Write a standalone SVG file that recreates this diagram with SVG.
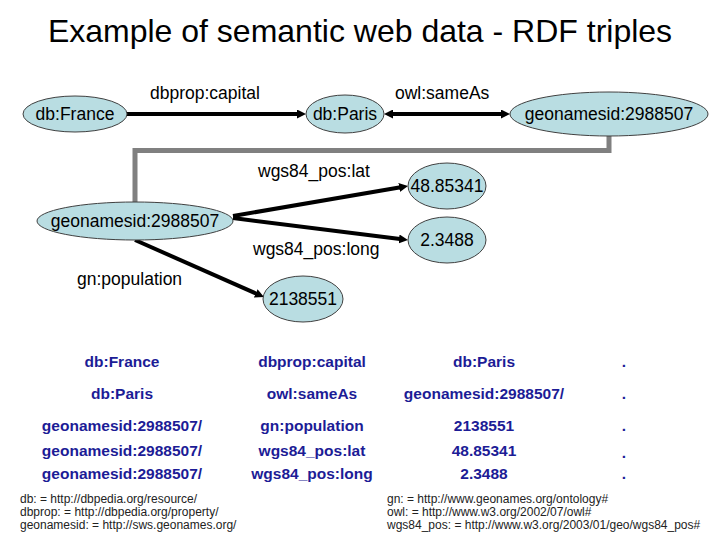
<svg xmlns="http://www.w3.org/2000/svg" width="720" height="540" viewBox="0 0 720 540">
<style>
.node ellipse{fill:#b9dde2;stroke:#404040;stroke-width:1}
.node text{font-family:"Liberation Sans",Arial,sans-serif;font-size:17.5px;fill:#000;text-anchor:middle}
.lbl{font-family:"Liberation Sans",Arial,sans-serif;font-size:17.5px;fill:#000}
.edge{stroke:#000;stroke-width:4;fill:none}
.gray{stroke:#808080;stroke-width:5;fill:none}
.tbl{font-family:"Liberation Sans",Arial,sans-serif;font-size:15.5px;font-weight:bold;fill:#1c1c96;text-anchor:middle}
.foot{font-family:"Liberation Sans",Arial,sans-serif;font-size:12px;fill:#222}
.title{font-family:"Liberation Sans",Arial,sans-serif;font-size:32px;fill:#000;text-anchor:middle}
</style>
<defs>
<marker id="arr" markerUnits="userSpaceOnUse" markerWidth="9" markerHeight="9" refX="3" refY="4.5" orient="auto-start-reverse" viewBox="0 0 9 9">
<path d="M0,0 L9,4.5 L0,9 z" fill="#000"/>
</marker>
</defs>
<rect width="720" height="540" fill="#fff"/>
<text class="title" x="360" y="42">Example of semantic web data - RDF triples</text>

<g id="connectors">
<line class="edge" x1="127" y1="114" x2="300" y2="114" marker-end="url(#arr)"/>
<line class="edge" x1="390" y1="114" x2="504" y2="114" marker-start="url(#arr)" marker-end="url(#arr)"/>
<polyline class="gray" points="609,136 609,150.5 135,150.5 135,202"/>
<line class="edge" x1="233" y1="216" x2="402.1" y2="187" marker-end="url(#arr)"/>
<line class="edge" x1="233" y1="218" x2="402" y2="239.3" marker-end="url(#arr)"/>
<line class="edge" x1="135" y1="240" x2="258.5" y2="294.6" marker-end="url(#arr)"/>
</g>

<g id="edge-labels">
<text class="lbl" x="150" y="99">dbprop:capital</text>
<text class="lbl" x="395" y="99">owl:sameAs</text>
<text class="lbl" x="258" y="177">wgs84_pos:lat</text>
<text class="lbl" x="253" y="255">wgs84_pos:long</text>
<text class="lbl" x="77" y="285">gn:population</text>
</g>

<g id="france" class="node"><ellipse cx="75" cy="114" rx="52" ry="18"/><text x="75" y="120">db:France</text></g>
<g id="paris" class="node"><ellipse cx="345" cy="114" rx="39" ry="19"/><text x="345" y="120">db:Paris</text></g>
<g id="geo1" class="node"><ellipse cx="609" cy="114" rx="99" ry="22"/><text x="609" y="120">geonamesid:2988507</text></g>
<g id="geo2" class="node"><ellipse cx="135" cy="221" rx="98" ry="19"/><text x="135" y="227">geonamesid:2988507</text></g>
<g id="lat" class="node"><ellipse cx="447" cy="186" rx="39" ry="23"/><text x="447" y="192">48.85341</text></g>
<g id="long" class="node"><ellipse cx="447" cy="240" rx="39" ry="23"/><text x="447" y="246">2.3488</text></g>
<g id="pop" class="node"><ellipse cx="303" cy="299" rx="40" ry="23"/><text x="303" y="305">2138551</text></g>

<g id="table">
<text class="tbl" x="122" y="367">db:France</text>
<text class="tbl" x="312" y="367">dbprop:capital</text>
<text class="tbl" x="484" y="367">db:Paris</text>
<text class="tbl" x="624" y="367">.</text>
<text class="tbl" x="122" y="399">db:Paris</text>
<text class="tbl" x="312" y="399">owl:sameAs</text>
<text class="tbl" x="484" y="399">geonamesid:2988507/</text>
<text class="tbl" x="624" y="399">.</text>
<text class="tbl" x="122" y="431">geonamesid:2988507/</text>
<text class="tbl" x="312" y="431">gn:population</text>
<text class="tbl" x="484" y="431">2138551</text>
<text class="tbl" x="624" y="431">.</text>
<text class="tbl" x="122" y="456">geonamesid:2988507/</text>
<text class="tbl" x="312" y="456">wgs84_pos:lat</text>
<text class="tbl" x="484" y="456">48.85341</text>
<text class="tbl" x="624" y="458">.</text>
<text class="tbl" x="122" y="479">geonamesid:2988507/</text>
<text class="tbl" x="312" y="479">wgs84_pos:long</text>
<text class="tbl" x="484" y="479">2.3488</text>
<text class="tbl" x="624" y="479">.</text>
</g>

<g id="footer">
<text class="foot" x="20" y="503">db: = http://dbpedia.org/resource/</text>
<text class="foot" x="20" y="516">dbprop: = http://dbpedia.org/property/</text>
<text class="foot" x="20" y="528.5">geonamesid: = http://sws.geonames.org/</text>
<text class="foot" x="387" y="503">gn: = http://www.geonames.org/ontology#</text>
<text class="foot" x="387" y="516">owl: = http://www.w3.org/2002/07/owl#</text>
<text class="foot" x="387" y="528.5">wgs84_pos: = http://www.w3.org/2003/01/geo/wgs84_pos#</text>
</g>
</svg>
